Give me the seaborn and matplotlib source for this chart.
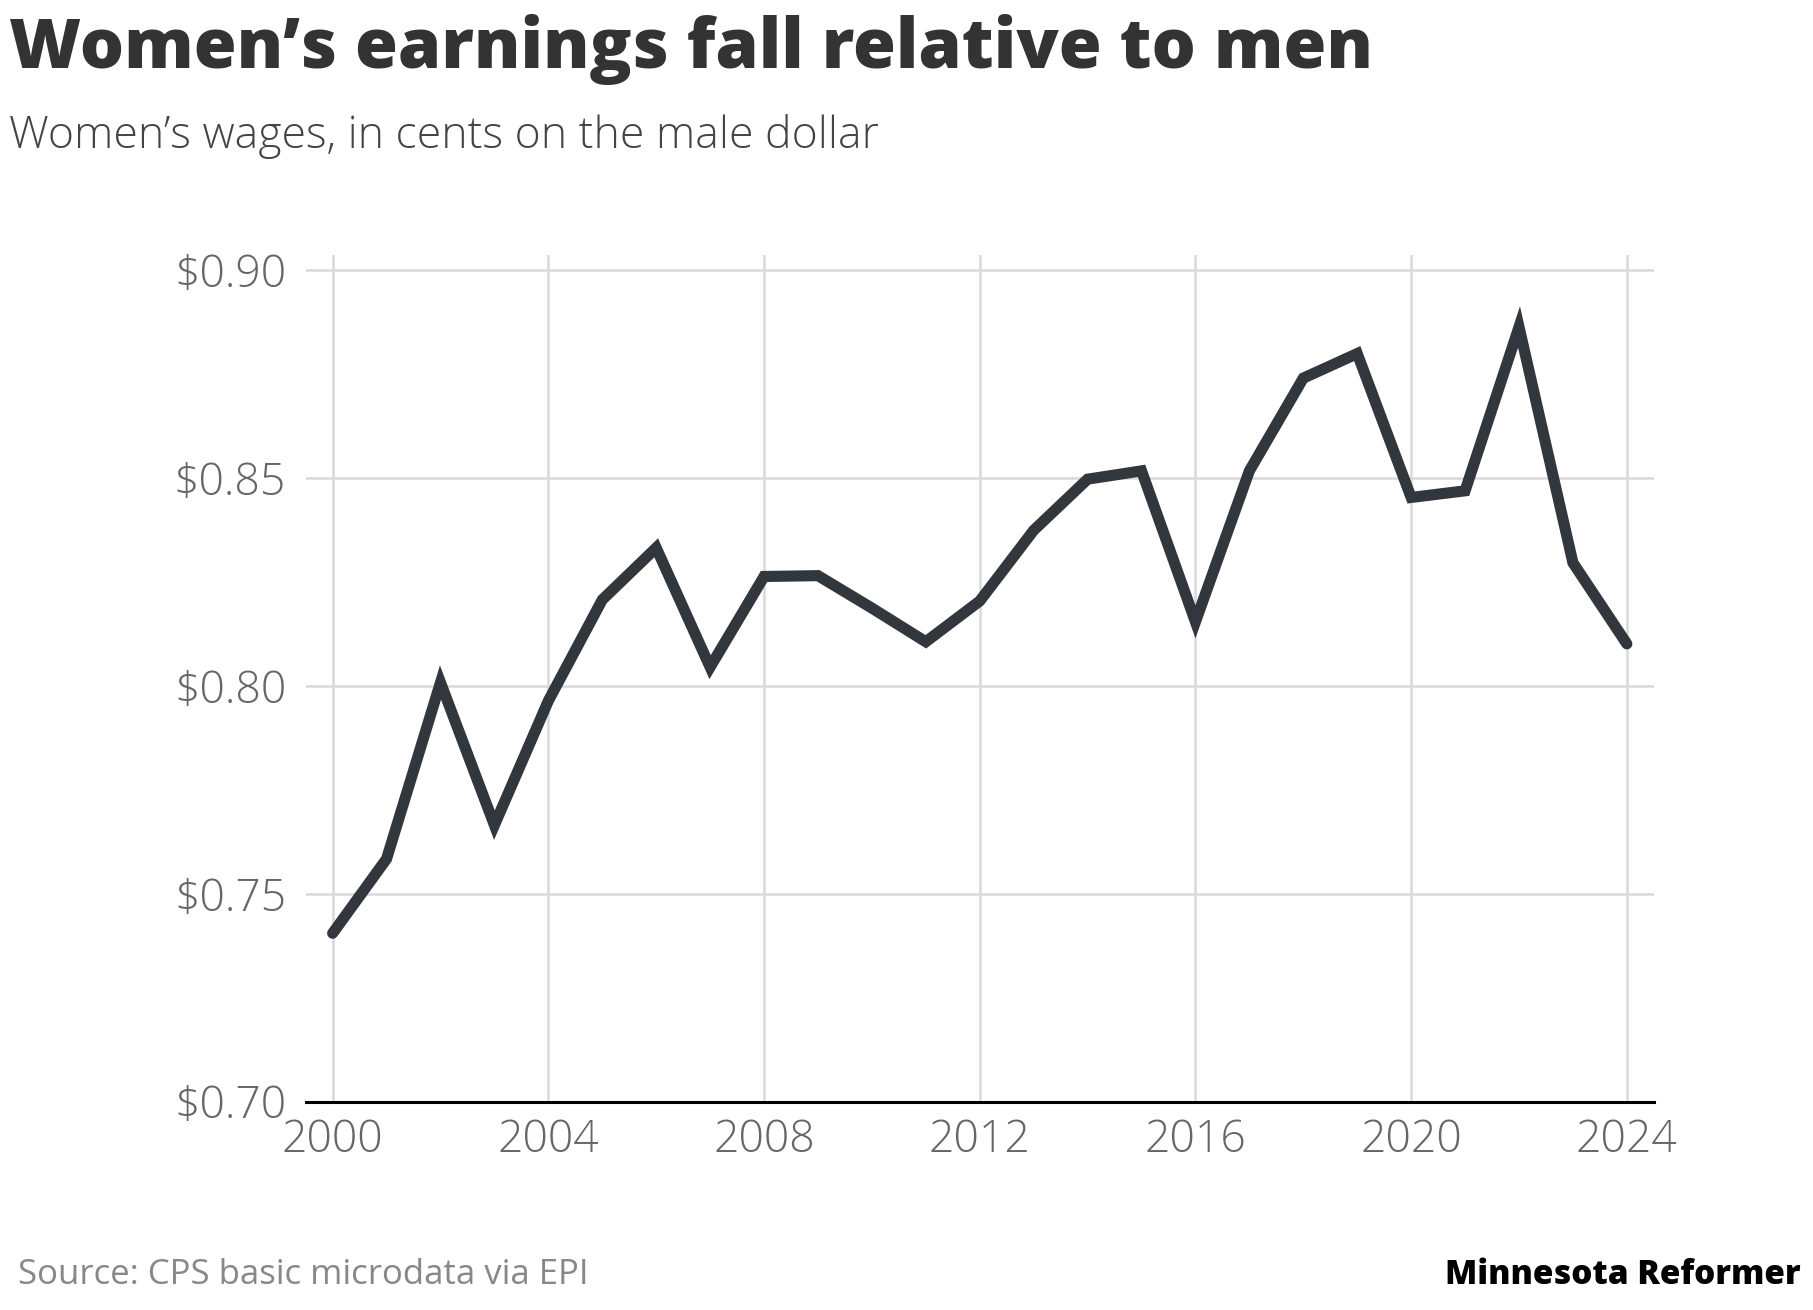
import matplotlib
matplotlib.use("Agg")
import matplotlib.pyplot as plt
import seaborn as sns
import pandas as pd

years = list(range(2000, 2025))
ratio = [0.7405, 0.7584, 0.8008, 0.7665, 0.7964, 0.8207, 0.8332, 0.8045, 0.8263, 0.8265,
         0.8187, 0.8106, 0.8204, 0.8374, 0.8497, 0.8517, 0.8154, 0.8517, 0.8740, 0.8799,
         0.8453, 0.8469, 0.8863, 0.8296, 0.8101]
yticks = [0.70, 0.75, 0.80, 0.85, 0.90]
xticks = [2000, 2004, 2008, 2012, 2016, 2020, 2024]

df = pd.DataFrame({"year": years, "ratio": ratio})
plt.rcParams["font.family"] = "Open Sans"
fig = plt.figure(figsize=(18.13, 13.10), dpi=100)
ax = fig.add_axes([0.1686, 0.159, 0.7436, 0.646])
sns.lineplot(data=df, x="year", y="ratio", ax=ax, color="#32363d", linewidth=8,
             solid_capstyle="round", solid_joinstyle="miter")
ax.set_xlim(1999.5, 2024.5)
ax.set_ylim(0.70, 0.9035)
ax.set_yticks(yticks)
ax.set_yticklabels([f"${v:.2f}" for v in yticks])
ax.set_xticks(xticks)
ax.set_xticklabels([str(x) for x in xticks])
for lab in ax.get_xticklabels() + ax.get_yticklabels():
    lab.set_fontweight("light")
ax.grid(True, color="#d9d9d9", linewidth=1.8)
ax.set_axisbelow(True)
for s in ["top", "right", "left"]:
    ax.spines[s].set_visible(False)
ax.spines["bottom"].set_color("black")
ax.spines["bottom"].set_linewidth(2.2)
ax.tick_params(length=0, labelsize=32, colors="#666666", pad=12)
ax.tick_params(axis="y", pad=14)
ax.set_xlabel("")
ax.set_ylabel("")

fig.text(0.005, 0.962, "Women\u2019s earnings fall relative to men", fontsize=50,
         fontweight="heavy", color="#333333", va="center", ha="left")
fig.text(0.005, 0.896, "Women\u2019s wages, in cents on the male dollar", fontsize=32,
         fontweight="light", color="#444444", va="center", ha="left")
fig.text(0.01, 0.027, "Source: CPS basic microdata via EPI", fontsize=25,
         color="#888888", va="center", ha="left")
fig.text(0.993, 0.027, "Minnesota Reformer", fontsize=24, fontweight="heavy",
         color="black", va="center", ha="right")
fig.savefig("out.png", dpi=100)
